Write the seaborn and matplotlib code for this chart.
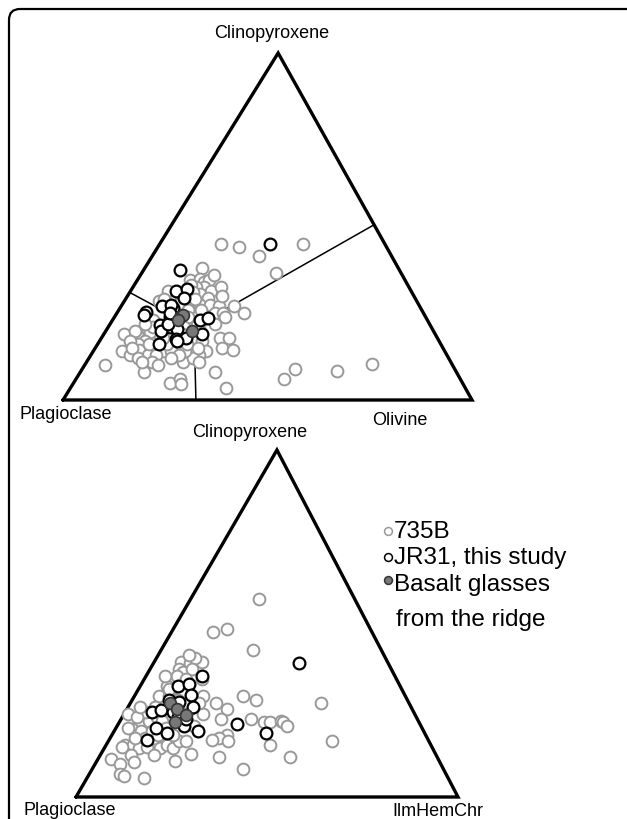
import numpy as np
import pandas as pd
import matplotlib
matplotlib.use("Agg")
import matplotlib.pyplot as plt
from matplotlib.patches import FancyBboxPatch
import seaborn as sns

sns.set_style("white")
plt.rcParams["font.family"] = ["Liberation Sans", "DejaVu Sans"]
plt.rcParams["text.color"] = "black"

# ---- data: compositions in percent (third end-member = 100 - others) ----
# top diagram: Plagioclase - Clinopyroxene - Olivine
top_735b_cpx = [45, 44, 41.5, 45, 36.5, 27, 25, 18, 18, 15, 14.5, 8, 3.5, 6, 9, 8.5, 10.5, 10, 8, 5, 6, 4.5,
                11, 19, 19, 14, 13, 38, 34.5, 35, 34, 34.5, 32.5, 32.5, 31.5, 32.5, 30.5, 29.5, 28.5, 27.5,
                27.5, 27, 25, 25, 31.5, 28.5, 29, 18, 17, 19, 19.5, 17, 15, 14, 14, 15.5, 18, 17, 17, 14, 13,
                12, 14, 13, 12, 11, 16, 14.5, 13, 13, 23, 23, 21.5, 16, 11, 29.5, 22,
                33, 31, 30, 29, 28, 26, 26, 24, 23, 22, 21, 20, 19, 18, 21, 22, 20, 17, 16, 15,
                12, 11, 10, 16, 15, 20, 24, 36, 30]
top_735b_ol = [15, 20, 26, 35, 33, 27.5, 31, 29, 31, 31, 34, 33, 38, 51, 52, 62.5, 70, 5, 15.5, 23.5, 25.5, 26.5,
               23.5, 5, 8, 7, 9.5, 14, 13, 15, 16.5, 17.5, 17.5, 15.5, 19.5, 21.5, 17.5, 20, 16, 19,
               21.5, 24, 24, 26, 9, 8.5, 9.5, 17.5, 16.5, 13.5, 11, 11, 13.5, 17, 19, 21, 21.5, 23.5, 25, 27.5, 26.5,
               25.5, 22.5, 21.5, 20, 27.5, 10, 11, 14, 16, 10, 19, 21.5, 17, 16, 12, 25.5,
               14, 15.5, 13, 17, 14, 17, 20, 18, 22, 17, 18.5, 16, 19, 15, 11, 8.5, 7, 7.5, 12.5, 9,
               12, 13.5, 18, 22, 25, 23, 27, 18, 23]
top_jr31_cpx = [37.5, 31.5, 32, 29.5, 25.5, 24.5, 27, 26.5, 24, 21.5, 21, 20, 20.5, 17.5, 18, 23, 23.5, 19, 16,
                45, 27.5, 22, 17, 25]
top_jr31_ol = [9, 11, 13.5, 14, 7, 7, 10, 13, 13.5, 12.5, 15, 13.5, 17, 18.5, 20.5, 21.5, 23, 24, 15,
               27, 12, 14, 19, 13]
top_glass_cpx = [24, 24.5, 20, 23]
top_glass_ol = [16, 16.5, 21, 16]
# phase boundaries: left edge, base, right edge -> junction
cot_cpx = [31, 0, 50.5]
cot_ol = [0, 32.5, 49.5]
cot_junction = (21, 21)

# bottom diagram: Plagioclase - Clinopyroxene - IlmHemChr
bot_735b_cpx = [57, 47.5, 48.5, 42.5, 27, 16, 11.5, 15, 29, 28, 27, 25.5, 22.5, 22.5, 21.5, 21.5, 22, 21.5,
                20.5, 18, 17, 16, 16.5, 11.5, 8, 10.5, 12.5, 5.5, 11, 9.5, 6.5, 6, 39, 29, 24, 24,
                39, 38.5, 37, 36, 33, 32, 29, 29, 31, 25.5, 19.5, 19, 15, 15, 14, 14.5, 14.5, 17, 14, 15,
                14, 16, 16, 21, 22, 24.5, 17, 17, 20.5, 34, 25.5, 24.5,
                40, 37, 35, 34, 31, 30, 28, 27, 26, 23, 22, 20, 19, 18, 23, 20, 26, 12, 10, 18,
                12, 27, 35, 41]
bot_735b_ilm = [18, 11, 14, 24, 50, 58.5, 50, 43, 28.5, 32.5, 22.5, 26, 26, 34, 38, 39.5, 42, 43,
                44.5, 30, 28.5, 31.5, 27, 31.5, 39.5, 20.5, 23.5, 15, 3.5, 6.5, 8, 9.5, 12.5, 18, 20.5, 1,
                7, 9.5, 7.5, 9, 8, 7, 6.5, 9, 11, 16.5, 4.5, 7, 5, 7, 9, 11, 4.5, 11.5, 14.5, 16,
                18, 18.5, 20.5, 10, 7.5, 5.5, 9, 6.5, 20, 15, 13, 9,
                10, 11, 8, 11, 8, 12, 12, 15, 7, 9, 11, 13, 10, 12, 4, 3, 3, 8, 10, 16,
                14, 18, 5, 8]
bot_jr31_cpx = [38.5, 35, 32, 32.5, 29.5, 28, 27.5, 26, 24.5, 25, 20, 18.5, 16.5, 20.5, 19, 21, 18.5,
                24.5, 23, 22.5]
bot_jr31_ilm = [38, 14.5, 10, 12.5, 14.5, 9.5, 12.5, 17, 7, 9, 10.5, 14, 10, 17.5, 22, 31, 40,
                12.5, 14.5, 17]
bot_glass_cpx = [27, 25.5, 23.5, 21.5]
bot_glass_ilm = [10.5, 13, 16.5, 14.5]

APEX_X = 0.526  # horizontal position of the apex along the base (as drawn)
W, H = 627, 820


def to_xy(cpx, other):
    cpx = np.asarray(cpx, float) / 100
    other = np.asarray(other, float) / 100
    return other + APEX_X * cpx, cpx


def draw_triangle(ax):
    ax.plot([0, 1, APEX_X, 0], [0, 0, 1, 0], color="black", lw=2.4,
            solid_joinstyle="miter", clip_on=False, zorder=5)
    ax.set_xlim(0, 1)
    ax.set_ylim(0, 1)
    ax.axis("off")


def draw_points(ax, c735, o735, cjr, ojr, cgl, ogl):
    for cpx, oth, face, edge, lw, z in [
        (c735, o735, "white", "#999999", 1.4, 6),
        (cjr, ojr, "white", "black", 1.6, 7),
        (cgl, ogl, "#787878", "#333333", 1.2, 8),
    ]:
        x, y = to_xy(cpx, oth)
        df = pd.DataFrame({"x": x, "y": y})
        sns.scatterplot(data=df, x="x", y="y", ax=ax, s=72, color=face,
                        edgecolor=edge, linewidth=lw, zorder=z, clip_on=False, legend=False)
    ax.set_xlabel("")
    ax.set_ylabel("")


fig = plt.figure(figsize=(W / 100, H / 100), dpi=100)

# overlay in pixel units for the frame and the legend
bg = fig.add_axes([0, 0, 1, 1])
bg.set_xlim(0, W)
bg.set_ylim(H, 0)
bg.axis("off")
bg.add_patch(FancyBboxPatch((9, 10), 700, 900, boxstyle="round,pad=0,rounding_size=11",
                            fc="none", ec="black", lw=1.6))

# top ternary
ax1 = fig.add_axes([63 / W, 1 - 401 / H, 409 / W, 347 / H])
draw_triangle(ax1)
jx, jy = to_xy(cot_junction[0], cot_junction[1])
for c, o in zip(cot_cpx, cot_ol):
    ex, ey = to_xy(c, o)
    ax1.plot([ex, jx], [ey, jy], color="black", lw=1.1, zorder=4)
draw_points(ax1, top_735b_cpx, top_735b_ol, top_jr31_cpx, top_jr31_ol, top_glass_cpx, top_glass_ol)

# bottom ternary
ax2 = fig.add_axes([76 / W, 1 - 798 / H, 382 / W, 347 / H])
draw_triangle(ax2)
draw_points(ax2, bot_735b_cpx, bot_735b_ilm, bot_jr31_cpx, bot_jr31_ilm, bot_glass_cpx, bot_glass_ilm)

# corner labels
lab = dict(fontsize=13, ha="center", va="center")
bg.text(272, 33, "Clinopyroxene", **lab)
bg.text(66, 415, "Plagioclase", **lab)
bg.text(400, 421, "Olivine", **lab)
bg.text(250, 433, "Clinopyroxene", **lab)
bg.text(70, 811, "Plagioclase", **lab)
bg.text(438, 812, "IlmHemChr", **lab)

# legend
leg_names = ["735B", "JR31, this study", "Basalt glasses"]
leg_face = ["white", "white", "#787878"]
leg_edge = ["#999999", "black", "#333333"]
leg_y = [532, 558, 585]
for name, fc, ec, yy in zip(leg_names, leg_face, leg_edge, leg_y):
    bg.scatter([388], [yy - (4 if name == "Basalt glasses" else 0)], s=32, facecolor=fc,
               edgecolor=ec, linewidth=1.1, zorder=5)
    bg.text(394, yy, name, fontsize=17.5, ha="left", va="center")
bg.text(396, 620, "from the ridge", fontsize=17.5, ha="left", va="center")

fig.savefig("out.png", dpi=100)
